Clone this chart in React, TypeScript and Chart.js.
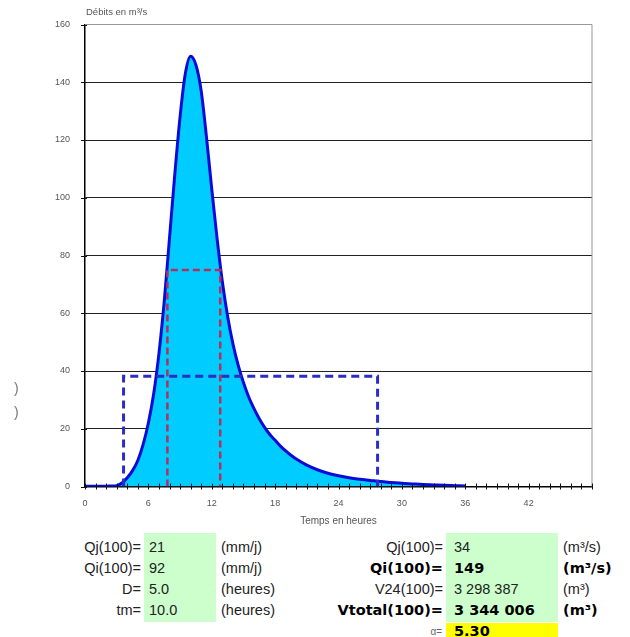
import React, { useEffect, useRef } from "react";
import { Chart, registerables } from "chart.js";

Chart.register(...registerables);

// Hydrograph (hours, m3/s)
const hours = [0, 0.5, 1, 1.5, 2, 2.5, 3, 3.5, 4, 4.5, 5, 5.5, 6, 6.5, 7, 7.5, 8, 8.5, 9, 9.5, 10, 10.5, 11, 11.5, 12, 12.5, 13, 13.5, 14, 14.5, 15, 15.5, 16, 16.5, 17, 17.5, 18, 18.5, 19, 19.5, 20, 21, 22, 23, 24, 25, 26, 27, 28, 29, 30, 31, 32, 33, 34, 35, 36];
const flows = [0.1, 0.1, 0.1, 0.1, 0.1, 0.2, 0.3, 1.2, 3, 5.5, 9, 14.5, 22, 32, 46, 64, 86, 108, 128, 143, 149, 146, 137, 121, 103, 86, 71, 59, 49.5, 42, 36, 31, 27, 23.5, 20.5, 18, 16, 14, 12.3, 10.8, 9.5, 7.4, 5.8, 4.6, 3.7, 3.0, 2.5, 2.1, 1.7, 1.4, 1.1, 0.9, 0.7, 0.55, 0.4, 0.3, 0.2];

// Rectangle D (5 h at max mean flow)
const redBoxHours = [7.8, 7.8, 12.8, 12.8];
const redBoxFlows = [0, 75, 75, 0];
// Rectangle 24 h (V24)
const blueBoxHours = [3.65, 3.65, 27.7, 27.7];
const blueBoxFlows = [0, 38.2, 38.2, 0];

const xTickLabels = [0, 6, 12, 18, 24, 30, 36, 42];
const yTickValues = [0, 20, 40, 60, 80, 100, 120, 140, 160];

// Table
const leftLabels = ["Qj(100)=", "Qi(100)=", "D=", "tm="];
const leftValues = ["21", "92", "5.0", "10.0"];
const leftUnits = ["(mm/j)", "(mm/j)", "(heures)", "(heures)"];
const rightLabels = ["Qj(100)=", "Qi(100)=", "V24(100)=", "Vtotal(100)="];
const rightValues = ["34", "149", "3 298 387", "3 344 006"];
const rightUnits = ["(m³/s)", "(m³/s)", "(m³)", "(m³)"];
const rightBold = [false, true, false, true];
const alphaLabel = "α=";
const alphaValue = "5.30";

const ROWS = [547, 568, 589, 610];
const FONT = "'Liberation Sans', Arial, sans-serif";
const BOLD = "'DejaVu Sans', Verdana, sans-serif";

const excelAxes = {
  id: "excelAxes",
  afterDatasetsDraw(chart: any) {
    const { ctx, chartArea: a, scales } = chart;
    const x = scales.x;
    const y = scales.y;
    ctx.save();
    ctx.strokeStyle = "#999";
    ctx.lineWidth = 1;
    ctx.beginPath();
    ctx.moveTo(a.left, a.top);
    ctx.lineTo(a.right, a.top);
    ctx.lineTo(a.right, a.bottom);
    ctx.stroke();
    ctx.strokeStyle = "#111";
    ctx.lineWidth = 1;
    ctx.beginPath();
    for (let h = x.min; h <= x.max; h += 1) {
      const px = Math.round(x.getPixelForValue(h)) + 0.5;
      ctx.moveTo(px, a.bottom - 3);
      ctx.lineTo(px, a.bottom + 3);
    }
    for (const v of yTickValues) {
      const py = Math.round(y.getPixelForValue(v)) + 0.5;
      ctx.moveTo(a.left - 4, py);
      ctx.lineTo(a.left + 2, py);
    }
    ctx.stroke();
    ctx.restore();
  },
};

function HydroChart() {
  const ref = useRef<HTMLCanvasElement | null>(null);
  useEffect(() => {
    if (!ref.current) return;
    const chart = new Chart(ref.current, {
      type: "line",
      data: {
        datasets: [
          {
            data: redBoxHours.map((h, i) => ({ x: h, y: redBoxFlows[i] })),
            borderColor: "#b03060",
            borderWidth: 2.5,
            borderDash: [7, 4],
            pointRadius: 0,
            fill: false,
            tension: 0,
          },
          {
            data: blueBoxHours.map((h, i) => ({ x: h, y: blueBoxFlows[i] })),
            borderColor: "#2c2cc8",
            borderWidth: 3,
            borderDash: [8, 5],
            pointRadius: 0,
            fill: false,
            tension: 0,
          },
          {
            data: hours.map((h, i) => ({ x: h, y: flows[i] })),
            borderColor: "#0a0ad8",
            borderWidth: 3,
            backgroundColor: "#00ccff",
            fill: "origin",
            pointRadius: 0,
            cubicInterpolationMode: "monotone",
          },
        ],
      },
      options: {
        responsive: false,
        animation: false,
        layout: { padding: { top: 24.5, right: 38, left: 0, bottom: 0 } },
        plugins: { legend: { display: false }, tooltip: { enabled: false }, title: { display: false } },
        scales: {
          x: {
            type: "linear",
            min: 0,
            max: 48,
            grid: { display: false, drawTicks: false },
            border: { display: true, color: "#000", width: 1.5 },
            ticks: {
              stepSize: 1,
              autoSkip: false,
              maxRotation: 0,
              padding: 12,
              color: "#555",
              font: { size: 9, family: FONT },
              callback: (v: any) => (xTickLabels.includes(Number(v)) ? String(v) : ""),
            },
            title: {
              display: true,
              text: "Temps en heures",
              color: "#555",
              font: { size: 10, family: FONT },
              padding: { top: 0, bottom: 3 },
            },
            afterFit: (s: any) => {
              s.height = 530 - 486.5;
            },
          },
          y: {
            min: 0,
            max: 160,
            grid: {
              drawTicks: false,
              color: (c: any) => (c.tick && c.tick.value === 160 ? "#999" : "#222"),
              lineWidth: 1,
            },
            border: { display: true, color: "#000", width: 1.5 },
            ticks: {
              stepSize: 20,
              padding: 15,
              color: "#555",
              font: { size: 9, family: FONT },
            },
            afterFit: (s: any) => {
              s.width = 85;
            },
          },
        },
      },
      plugins: [excelAxes],
    });
    return () => chart.destroy();
  }, []);
  return <canvas ref={ref} width={630} height={530} style={{ position: "absolute", left: 0, top: 0 }} />;
}

function Txt(props: { text: string; x?: number; right?: number; y: number; bold?: boolean; size?: number; color?: string }) {
  const { text, x, right, y, bold, size, color } = props;
  const style: any = {
    position: "absolute",
    top: y - 10.5,
    height: 21,
    lineHeight: "21px",
    whiteSpace: "nowrap",
    fontFamily: bold ? BOLD : FONT,
    fontWeight: bold ? "bold" : "normal",
    fontSize: size || 14.5,
    color: color || (bold ? "#000" : "#222"),
  };
  if (right !== undefined) style.right = right;
  else style.left = x;
  return <div style={style}>{text}</div>;
}

export default function App() {
  return (
    <div style={{ position: "fixed", left: 0, top: 0, width: 630, height: 637, background: "#fff", overflow: "hidden" }}>
      <HydroChart />
      <div style={{ position: "absolute", left: 86, top: 6, fontFamily: FONT, fontSize: 9.5, color: "#555", whiteSpace: "nowrap" }}>
        Débits en m³/s
      </div>
      <div style={{ position: "absolute", left: 14, top: 380, fontFamily: FONT, fontSize: 14, color: "#777" }}>)</div>
      <div style={{ position: "absolute", left: 14, top: 404, fontFamily: FONT, fontSize: 14, color: "#777" }}>)</div>
      <div style={{ position: "absolute", left: 144, top: 533, width: 72, height: 89, background: "#ccffcc" }} />
      <div style={{ position: "absolute", left: 446, top: 533, width: 112, height: 89, background: "#ccffcc" }} />
      <div style={{ position: "absolute", left: 446, top: 623, width: 112, height: 20, background: "#ffff00" }} />
      {ROWS.map((y, i) => (
        <React.Fragment key={"l" + i}>
          <Txt text={leftLabels[i]} right={630 - 141} y={y} />
          <Txt text={leftValues[i]} x={149} y={y} />
          <Txt text={leftUnits[i]} x={221} y={y} />
          <Txt text={rightLabels[i]} right={630 - 443} y={y} bold={rightBold[i]} />
          <Txt text={rightValues[i]} x={454} y={y} bold={rightBold[i]} />
          <Txt text={rightUnits[i]} x={563} y={y} bold={rightBold[i]} />
        </React.Fragment>
      ))}
      <Txt text={alphaLabel} right={630 - 442} y={631} size={10} color="#666" />
      <Txt text={alphaValue} x={454} y={631} bold />
    </div>
  );
}
